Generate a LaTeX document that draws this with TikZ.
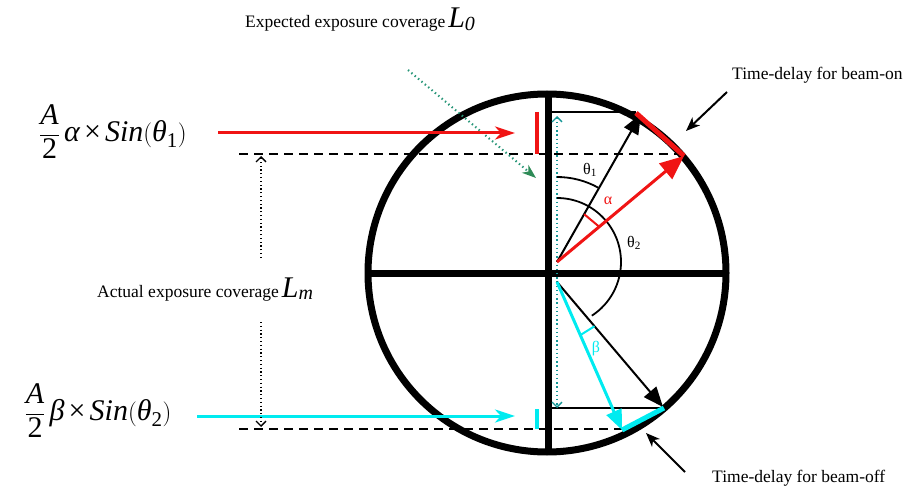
\documentclass[tikz,border=0pt]{standalone}
\usepackage{amsmath}
\usepackage{fontspec}
\setmainfont{Liberation Serif}
\usetikzlibrary{arrows.meta,calc}
\definecolor{rayred}{RGB}{240,20,20}
\definecolor{raycyan}{RGB}{0,235,240}
\definecolor{dotteal}{RGB}{20,150,150}
\definecolor{dotgreen}{RGB}{40,150,120}
\definecolor{headgreen}{RGB}{46,139,87}
\tikzset{
  lbl/.style={font=\fontsize{17.5}{20}\selectfont, inner sep=0pt},
  formula/.style={font=\fontsize{30}{36}\selectfont, inner sep=0pt},
  anglbl/.style={font=\fontsize{16}{18}\selectfont, inner sep=0pt},
  thickline/.style={line width=7pt},
  thinline/.style={line width=1.8pt},
  dashline/.style={line width=2.8pt, dash pattern=on 9pt off 6pt},
  dotline/.style={line width=1.8pt, dash pattern=on 1.2pt off 2.6pt},
  barb/.style={-{Straight Barb[length=5pt,width=10pt,line width=1.3pt]}},
  bigtri/.style={-{Triangle[length=20pt,width=16pt]}},
  hstealth/.style={-{Stealth[length=20pt,width=13pt,inset=6pt]}},
  callout/.style={line width=2pt, -{Stealth[length=14pt,width=11pt,inset=4pt]}}
}
\begin{document}
\begin{tikzpicture}[x=1pt,y=1pt]
\useasboundingbox (0,0) rectangle (905,-489);

% ---- coordinates
\coordinate (C) at (547,-273);
\coordinate (O1) at (557,-262);
\coordinate (O2) at (557,-282);
\coordinate (VT) at (548,-93);
\coordinate (VB) at (548,-453);
\coordinate (HL) at (368,-273);
\coordinate (HR) at (726,-273);
\coordinate (Btop) at (641,-114);
\coordinate (Rtip) at (684,-156);
\coordinate (Rseg) at (636,-113);
\coordinate (Bbot) at (663,-407);
\coordinate (Ctip) at (622,-430);
\coordinate (Cseg) at (664,-408);
\coordinate (TLa) at (552,-112);
\coordinate (TLb) at (636,-112);
\coordinate (BLa) at (552,-408);
\coordinate (BLb) at (663,-408);
\coordinate (D1a) at (239,-154);
\coordinate (D1b) at (684,-154);
\coordinate (D2a) at (239,-429);
\coordinate (D2b) at (622,-429);
\coordinate (RBa) at (537,-112);
\coordinate (RBb) at (537,-154);
\coordinate (CBa) at (537,-409);
\coordinate (CBb) at (537,-429);
\coordinate (TVa) at (557,-116);
\coordinate (TVb) at (557,-408);
\coordinate (Ga) at (408,-70);
\coordinate (Gb) at (536,-178);
\coordinate (RHa) at (218,-133);
\coordinate (RHb) at (515,-133);
\coordinate (CHa) at (197,-416);
\coordinate (CHb) at (515,-416);
\coordinate (LMa) at (261,-258);
\coordinate (LMb) at (261,-156);
\coordinate (LMc) at (261,-322);
\coordinate (LMd) at (261,-427);
\coordinate (OnA) at (727,-92);
\coordinate (OnB) at (686,-131);
\coordinate (OffA) at (685,-472);
\coordinate (OffB) at (646,-433);

% ---- circle and axes
\draw[thickline] (C) circle[radius=179pt];
\draw[thickline] (HL) -- (HR);
\draw[thickline] (VT) -- (VB);

% ---- dashed guide lines
\draw[dashline] (D1a) -- (D1b);
\draw[dashline] (D2a) -- (D2b);

% ---- thin horizontal lines
\draw[thinline] (TLa) -- (TLb);
\draw[thinline] (BLa) -- (BLb);

% ---- bars
\draw[rayred, line width=4pt] (RBa) -- (RBb);
\draw[raycyan, line width=4pt] (CBa) -- (CBb);

% ---- teal dotted double arrow
\draw[dotteal, line width=2.4pt, dash pattern=on 1.4pt off 2.8pt,
  {Straight Barb[length=5pt,width=10pt,line width=1.3pt]}-{Straight Barb[length=5pt,width=10pt,line width=1.3pt]}] (TVa) -- (TVb);

% ---- green dotted arrow
\draw[dotgreen, line width=2.1pt, dash pattern=on 1.4pt off 3pt,
  -{Stealth[headgreen,length=14pt,width=10pt,inset=4pt]}] (Ga) -- (Gb);

% ---- angle arcs
\draw[thinline] ([shift={(90:85pt)}]O1) arc[start angle=90,end angle=61,radius=85pt];
\draw[thinline] ([shift={(90:64pt)}]O1) arc[start angle=90,end angle=-57,radius=64pt];

% ---- rays
\draw[line width=2pt, bigtri] (O1) -- (Btop);
\draw[rayred, line width=3pt, -{Triangle[length=24pt,width=20pt]}] (O1) -- (Rtip);
\draw[line width=2pt, bigtri] (O2) -- (Bbot);
\draw[raycyan, line width=3pt, bigtri] (O2) -- (Ctip);

% ---- time-delay segments
\draw[rayred, line width=5pt] (Rseg) -- (Rtip);
\draw[raycyan, line width=5pt] (Ctip) -- (Cseg);

% ---- angle markers
\draw[rayred, line width=2pt] ($(O1)!55pt!(Btop)$) -- ($(O1)!55pt!(Rtip)$);
\draw[raycyan, line width=2pt] ($(O2)!58pt!(Bbot)$) -- ($(O2)!58pt!(Ctip)$);

% ---- angle labels
\node[anglbl] (th1) at (590,-170) {θ\textsubscript{1}};
\node[anglbl, text=rayred] (alp) at (608,-201) {α};
\node[anglbl] (th2) at (634,-243) {θ\textsubscript{2}};
\node[anglbl, text=raycyan] (bet) at (596,-349) {β};

% ---- formulas
\node[formula] (f1) at (113,-132) {$\dfrac{\textit{A}}{\text{2}}\,\textit{α}\,\text{×}\,\textit{Sin}(\textit{θ}_{\text{1}})$};
\node[formula] (f2) at (98,-411) {$\dfrac{\textit{A}}{\text{2}}\,\textit{β}\,\text{×}\,\textit{Sin}(\textit{θ}_{\text{2}})$};

% ---- horizontal input arrows
\draw[rayred, line width=3pt, hstealth] (RHa) -- (RHb);
\draw[raycyan, line width=3pt, hstealth] (CHa) -- (CHb);

% ---- actual coverage dotted arrows
\draw[dotline, barb] (LMa) -- (LMb);
\draw[dotline, barb] (LMc) -- (LMd);

% ---- callout arrows
\draw[callout] (OnA) -- (OnB);
\draw[callout] (OffA) -- (OffB);

% ---- text labels
\node[lbl, anchor=base west] (exp) at (245,-28) {Expected exposure coverage\,{\fontsize{30}{30}\selectfont\textit{L}}\raisebox{-0.3ex}{\fontsize{20}{20}\selectfont\textit{0}}};
\node[lbl, anchor=base west] (act) at (97,-297) {Actual exposure coverage\,{\fontsize{30}{30}\selectfont\textit{L}}\raisebox{-0.3ex}{\fontsize{20}{20}\selectfont\textit{m}}};
\node[lbl, anchor=base west] (on) at (732,-80) {Time-delay for beam-on};
\node[lbl, anchor=base west] (off) at (712,-482) {Time-delay for beam-off};
\end{tikzpicture}
\end{document}
